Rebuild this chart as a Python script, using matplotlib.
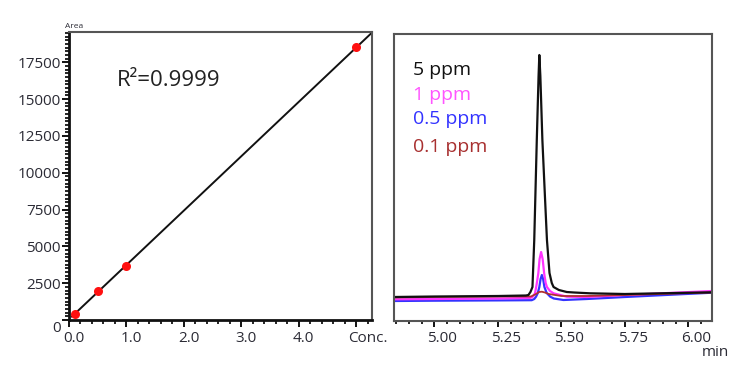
import numpy as np
import matplotlib
matplotlib.use("Agg")
import matplotlib.pyplot as plt
from matplotlib.ticker import MultipleLocator
from matplotlib.transforms import ScaledTranslation

plt.rcParams['font.family'] = ['Open Sans', 'DejaVu Sans']

# calibration curve
conc = [0.1, 0.5, 1.0, 5.0]
area = [390, 1980, 3680, 18520]
conc_ticks = [0, 1, 2, 3, 4, 5]
conc_labels = ['0.0', '1.0', '2.0', '3.0', '4.0', 'Conc.']
area_ticks = [0, 2500, 5000, 7500, 10000, 12500, 15000, 17500]

# chromatograms (intensity in arbitrary units)
t_5 = [4.84, 5.00, 5.25, 5.36, 5.370, 5.378, 5.386, 5.393, 5.403, 5.410, 5.413,
       5.417, 5.425, 5.435, 5.443, 5.453, 5.462, 5.469, 5.49, 5.521, 5.55,
       5.612, 5.75, 6.093]
y_5 = [24, 24.5, 25, 25.5, 26, 29, 34, 81, 181, 245, 266,
       245, 181, 125, 81, 48, 38, 34, 31, 29, 28.5,
       27.7, 27, 28.7]
t_1 = [4.84, 5.00, 5.25, 5.37, 5.377, 5.386, 5.396, 5.402, 5.409, 5.414,
       5.420, 5.426, 5.432, 5.438, 5.443, 5.455, 5.469, 5.521, 5.60, 5.75, 6.093]
y_1 = [21.7, 22, 22.5, 23, 23, 24, 27.7, 36, 47.7, 62,
       69, 62, 47.7, 38, 34, 30, 27.7, 24.3, 24, 26, 30]
t_05 = [4.84, 5.00, 5.25, 5.38, 5.383, 5.393, 5.400, 5.407, 5.413, 5.418,
        5.423, 5.428, 5.433, 5.442, 5.456, 5.47, 5.508, 5.60, 5.75, 6.093]
y_05 = [20, 20.3, 20.6, 20.8, 20.8, 22, 24.3, 28, 34, 42,
        46, 42, 34, 28, 24.3, 22.5, 21, 22, 24, 28.3]
t_01 = [4.84, 5.00, 5.25, 5.38, 5.40, 5.412, 5.423, 5.435, 5.45, 5.50,
        5.60, 5.75, 6.093]
y_01 = [23.5, 24, 24.5, 24.5, 27, 29, 29.3, 28.5, 27, 25,
        25, 26, 28.5]

time_ticks = [5.00, 5.25, 5.50, 5.75, 6.00]
legend_text = ['5 ppm', '1 ppm', '0.5 ppm', '0.1 ppm']
legend_color = ['#111111', '#ff55ff', '#3333ff', '#a83030']

txt = '#2b2b35'

fig = plt.figure(figsize=(7.46, 3.75), dpi=100)

# ---- left: calibration ----
ax1 = fig.add_axes([0.0925, 0.1467, 0.406, 0.768])
slope, icpt = np.polyfit(conc, area, 1)
xl = np.array([0.05, 5.4])
ax1.plot(xl, slope * xl + icpt, color='#111111', lw=1.4, zorder=2)
ax1.plot(conc, area, 'o', color='#ff1010', ms=6.5, mec='none', zorder=3)
ax1.set_xlim(0, 5.27)
ax1.set_ylim(0, 19560)
ax1.set_xticks(conc_ticks)
ax1.set_xticklabels(conc_labels)
ax1.set_yticks(area_ticks)
ax1.set_yticklabels([str(v) for v in area_ticks])
ax1.xaxis.set_minor_locator(MultipleLocator(0.2))
ax1.yaxis.set_minor_locator(MultipleLocator(250))
ax1.tick_params(which='major', direction='out', length=5, width=1.3,
                labelsize=11, labelcolor=txt, pad=1)
ax1.tick_params(which='minor', direction='out', length=3, width=1.2)
ax1.tick_params(axis='x', which='major', pad=3)
for s in ['left', 'bottom']:
    ax1.spines[s].set_linewidth(2.0)
    ax1.spines[s].set_color('#111111')
for s in ['top', 'right']:
    ax1.spines[s].set_linewidth(1.5)
    ax1.spines[s].set_color('#555555')

for lab in ax1.get_xticklabels():
    lab.set_transform(lab.get_transform() + ScaledTranslation(0.045, 0, fig.dpi_scale_trans))
last = ax1.get_xticklabels()[-1]
last.set_horizontalalignment('left')
last.set_transform(last.get_transform() + ScaledTranslation(-0.13, 0, fig.dpi_scale_trans))
zero = ax1.get_yticklabels()[0]
zero.set_transform(zero.get_transform() + ScaledTranslation(0, -0.07, fig.dpi_scale_trans))

ax1.text(0.83, 16290, 'R\u00b2=0.9999', fontsize=16, color='#222222',
         va='center', ha='left')
fig.text(74 / 746, 1 - 27 / 375, 'Area', fontsize=6, color=txt,
         ha='center', va='center')

# ---- right: chromatograms ----
ax2 = fig.add_axes([0.5282, 0.144, 0.4263, 0.7653])
ax2.plot(t_05, y_05, color='#3333ff', lw=1.6)
ax2.plot(t_1, y_1, color='#ff33ff', lw=1.6)
ax2.plot(t_01, y_01, color='#b03030', lw=1.3)
ax2.plot(t_5, y_5, color='#111111', lw=1.6)
ax2.set_xlim(4.841, 6.093)
ax2.set_ylim(0, 287)
ax2.set_yticks([])
ax2.set_xticks(time_ticks)
ax2.set_xticklabels(['%.2f' % v for v in time_ticks])
ax2.xaxis.set_minor_locator(MultipleLocator(0.05))
ax2.tick_params(which='major', direction='out', length=4, width=1.3,
                labelsize=11, labelcolor=txt, pad=3)
ax2.tick_params(which='minor', direction='out', length=2.5, width=1.2)
for s in ax2.spines.values():
    s.set_linewidth(1.5)
    s.set_color('#555555')
for lab in ax2.get_xticklabels():
    lab.set_transform(lab.get_transform() + ScaledTranslation(0.08, 0, fig.dpi_scale_trans))

fig.text(715 / 746, 1 - 352 / 375, 'min', fontsize=11, color=txt,
         ha='center', va='center')

legend_y = [70, 95, 119, 147]
for s, c, yy in zip(legend_text, legend_color, legend_y):
    fig.text(413 / 746, 1 - yy / 375, s, fontsize=14, color=c,
             ha='left', va='center')

fig.savefig('out.png', dpi=100)
